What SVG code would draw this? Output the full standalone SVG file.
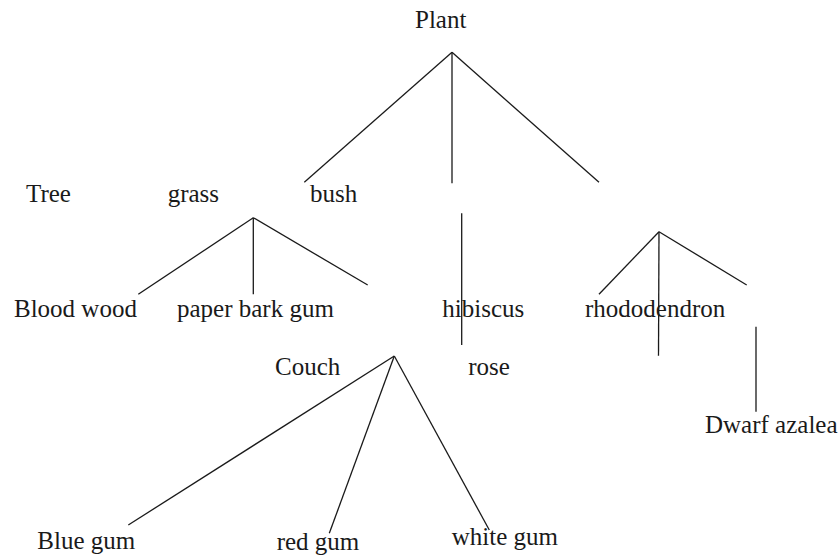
<svg xmlns="http://www.w3.org/2000/svg" width="840" height="555" viewBox="0 0 840 555">
<style>
.c line{stroke:#1a1a1a;stroke-width:1.3;fill:none}
</style>
<rect width="840" height="555" fill="#ffffff"/>
<g id="connectors" class="c">
<line x1="452" y1="52.3" x2="304.3" y2="182.3"/>
<line x1="452" y1="52.3" x2="452" y2="183.3"/>
<line x1="452" y1="52.3" x2="599" y2="182.3"/>
<line x1="253.3" y1="217.7" x2="138.3" y2="294.3"/>
<line x1="253.3" y1="217.7" x2="253.3" y2="294.3"/>
<line x1="253.3" y1="217.7" x2="367.7" y2="285"/>
<line x1="461.7" y1="213.3" x2="461.7" y2="345"/>
<line x1="659" y1="231.7" x2="599" y2="294.3"/>
<line x1="659" y1="231.7" x2="658.5" y2="355.7"/>
<line x1="659" y1="231.7" x2="746.7" y2="285"/>
<line x1="756" y1="326.7" x2="756" y2="411.7"/>
<line x1="394.3" y1="356" x2="128.3" y2="525"/>
<line x1="394.3" y1="356" x2="329.3" y2="533.3"/>
<line x1="394.3" y1="356" x2="489.3" y2="530"/>
</g>
<g font-family="Liberation Serif" font-size="25" fill="#1a1a1a">
<g id="plant"><text x="415" y="27.7">Plant</text></g>
<g id="tree"><text x="26" y="202.3">Tree</text></g>
<g id="grass"><text x="167.7" y="202">grass</text></g>
<g id="bush"><text x="310" y="202.3">bush</text></g>
<g id="blood-wood"><text x="14" y="316.7">Blood wood</text></g>
<g id="paper-bark-gum"><text x="177" y="316.7">paper bark gum</text></g>
<g id="hibiscus"><text x="442.3" y="316.7">hibiscus</text></g>
<g id="rhododendron"><text x="585" y="316.7">rhododendron</text></g>
<g id="couch"><text x="275" y="375">Couch</text></g>
<g id="rose"><text x="468.3" y="375">rose</text></g>
<g id="dwarf-azalea"><text x="705" y="433.3">Dwarf azalea</text></g>
<g id="blue-gum"><text x="37.3" y="549">Blue gum</text></g>
<g id="red-gum"><text x="276.7" y="550">red gum</text></g>
<g id="white-gum"><text x="451.7" y="545">white gum</text></g>
</g>
</svg>
